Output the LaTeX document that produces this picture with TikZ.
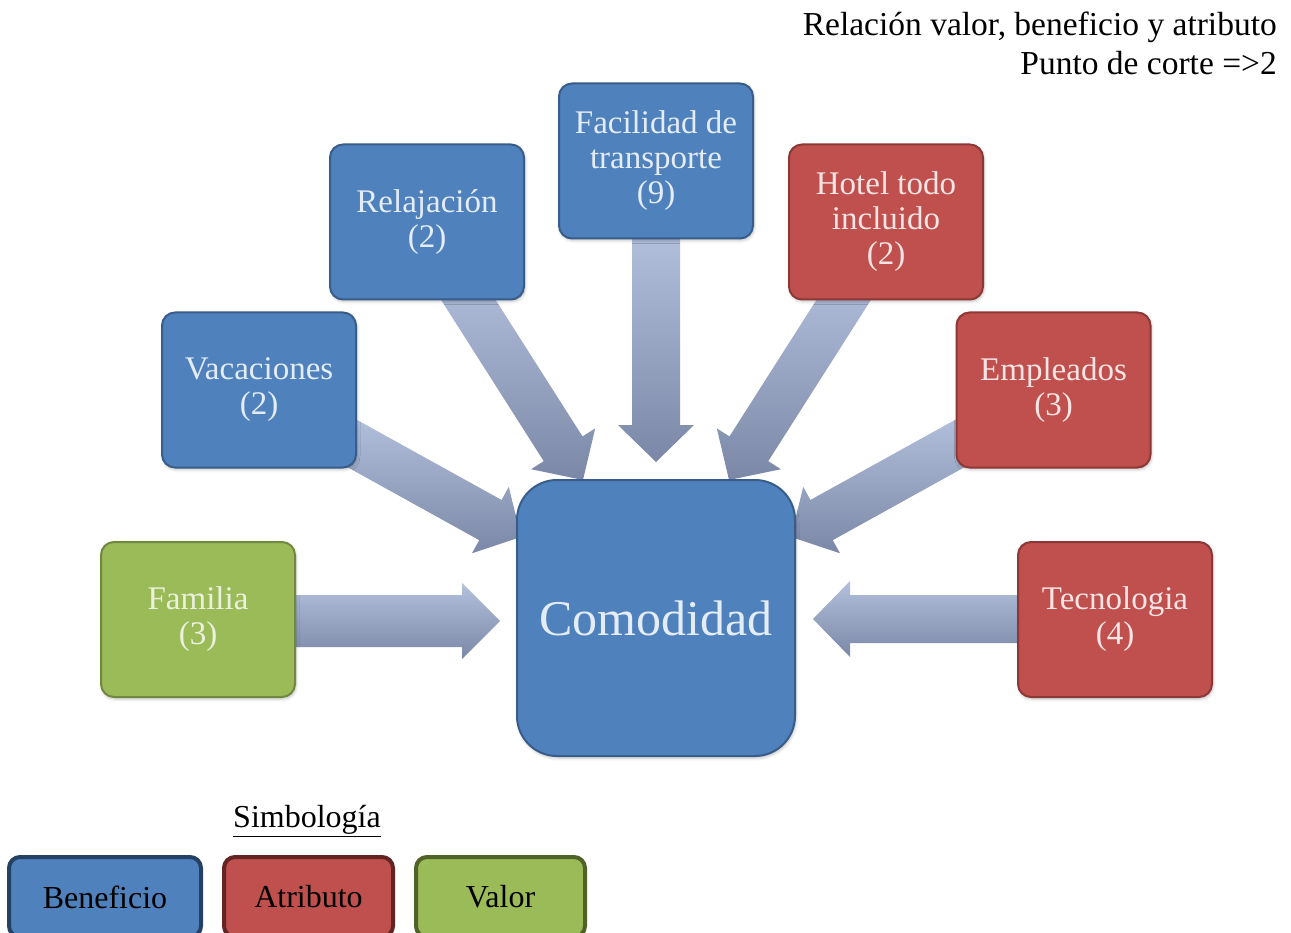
\documentclass[tikz,border=0pt]{standalone}
\usepackage{fontspec}
\setmainfont{Liberation Serif}
\usetikzlibrary{calc,shadows.blur}

\definecolor{benefill}{RGB}{79,129,189}
\definecolor{benedraw}{RGB}{56,93,138}
\definecolor{atrifill}{RGB}{192,80,77}
\definecolor{atridraw}{RGB}{140,56,54}
\definecolor{valfill}{RGB}{155,187,89}
\definecolor{valdraw}{RGB}{113,137,63}
\definecolor{legbene}{RGB}{36,64,98}
\definecolor{legatri}{RGB}{99,37,35}
\definecolor{legval}{RGB}{79,98,40}
\definecolor{arrtop}{RGB}{180,193,221}
\definecolor{arrbot}{RGB}{122,135,166}

\tikzset{
  card/.style={rounded corners=13pt, line width=2pt, minimum width=194pt,
    minimum height=155pt, align=center, inner sep=0pt,
    font=\fontsize{33}{35}\selectfont,
    blur shadow={shadow xshift=1pt, shadow yshift=-2pt, shadow blur radius=3pt, shadow opacity=25}},
  beneficio/.style={card, fill=benefill, draw=benedraw, text=white!85!benefill},
  atributo/.style={card, fill=atrifill, draw=atridraw, text=white!85!atrifill},
  valor/.style={card, fill=valfill, draw=valdraw, text=white!80!valfill},
  core/.style={beneficio, rounded corners=40pt, minimum width=278pt, minimum height=276pt,
    font=\fontsize{50}{55}\selectfont},
  legbox/.style={rounded corners=11pt, line width=4pt, minimum height=80pt,
    inner sep=0pt, font=\fontsize{32}{36}\selectfont, text=black},
  flowshade/.style={top color=arrtop, bottom color=arrbot, draw=none},
  heading/.style={font=\fontsize{33.5}{40}\selectfont, anchor=base east, inner sep=0pt}
}

% block arrow: start, tip, half shaft width, half head width, head length
\newcommand\blockarrow[5]{%
  \shade[flowshade] ($(#1)!#3!90:(#2)$)
    -- ($(#2)!#5!(#1)!#3!-90:(#1)$)
    -- ($(#2)!#5!(#1)!#4!-90:(#1)$)
    -- (#2)
    -- ($(#2)!#5!(#1)!#4!90:(#1)$)
    -- ($(#2)!#5!(#1)!#3!90:(#1)$)
    -- ($(#1)!#3!-90:(#2)$) -- cycle;}

\begin{document}
\begin{tikzpicture}[x=1pt, y=-1pt]
  \useasboundingbox (0,0) rectangle (1291,933);

  % heading
  \node[heading] (title1) at (1277,36) {Relación valor, beneficio y atributo};
  \node[heading] (title2) at (1277,75) {Punto de corte =>2};

  % arrow start and tip points
  \coordinate (famA) at (288,621);  \coordinate (famB) at (500,621);
  \coordinate (tecA) at (1024,619); \coordinate (tecB) at (813,619);
  \coordinate (facA) at (656,228);  \coordinate (facB) at (656,462);
  \coordinate (relA) at (455,279);  \coordinate (relB) at (583,480);
  \coordinate (hotA) at (857,279);  \coordinate (hotB) at (729,480);
  \coordinate (vacA) at (335,434);  \coordinate (vacB) at (521,537);
  \coordinate (empA) at (977,434);  \coordinate (empB) at (791,537);

  % arrows, drawn beneath the boxes
  \blockarrow{famA}{famB}{26pt}{38pt}{38pt}
  \blockarrow{tecA}{tecB}{24pt}{38pt}{37pt}
  \blockarrow{facA}{facB}{24pt}{38pt}{37pt}
  \blockarrow{relA}{relB}{23pt}{38pt}{37pt}
  \blockarrow{hotA}{hotB}{23pt}{38pt}{37pt}
  \blockarrow{vacA}{vacB}{23pt}{38pt}{35pt}
  \blockarrow{empA}{empB}{23pt}{38pt}{35pt}

  % boxes
  \node[beneficio] (rel) at (427,222)    {Relajación\\(2)};
  \node[beneficio] (fac) at (656,161)    {Facilidad de\\transporte\\(9)};
  \node[atributo]  (hot) at (886,222)    {Hotel todo\\incluido\\(2)};
  \node[beneficio] (vac) at (259,390)    {Vacaciones\\(2)};
  \node[atributo]  (emp) at (1053.5,390) {Empleados\\(3)};
  \node[valor]     (fam) at (198,619.5)  {Familia\\(3)};
  \node[atributo]  (tec) at (1115,619.5) {Tecnologia\\(4)};
  \node[core]      (com) at (656,618)    {Comodidad};

  % legend
  \node[font=\fontsize{32}{36}\selectfont, inner sep=0pt] (legtitle) at (307,821) {\underline{Simbología}};
  \node[legbox, fill=benefill, draw=legbene, minimum width=192pt] (legb) at (105,897) {Beneficio};
  \node[legbox, fill=atrifill, draw=legatri, minimum width=169pt] (lega) at (308.5,897) {Atributo};
  \node[legbox, fill=valfill, draw=legval, minimum width=169pt] (legv) at (500.5,897) {Valor};
\end{tikzpicture}
\end{document}
